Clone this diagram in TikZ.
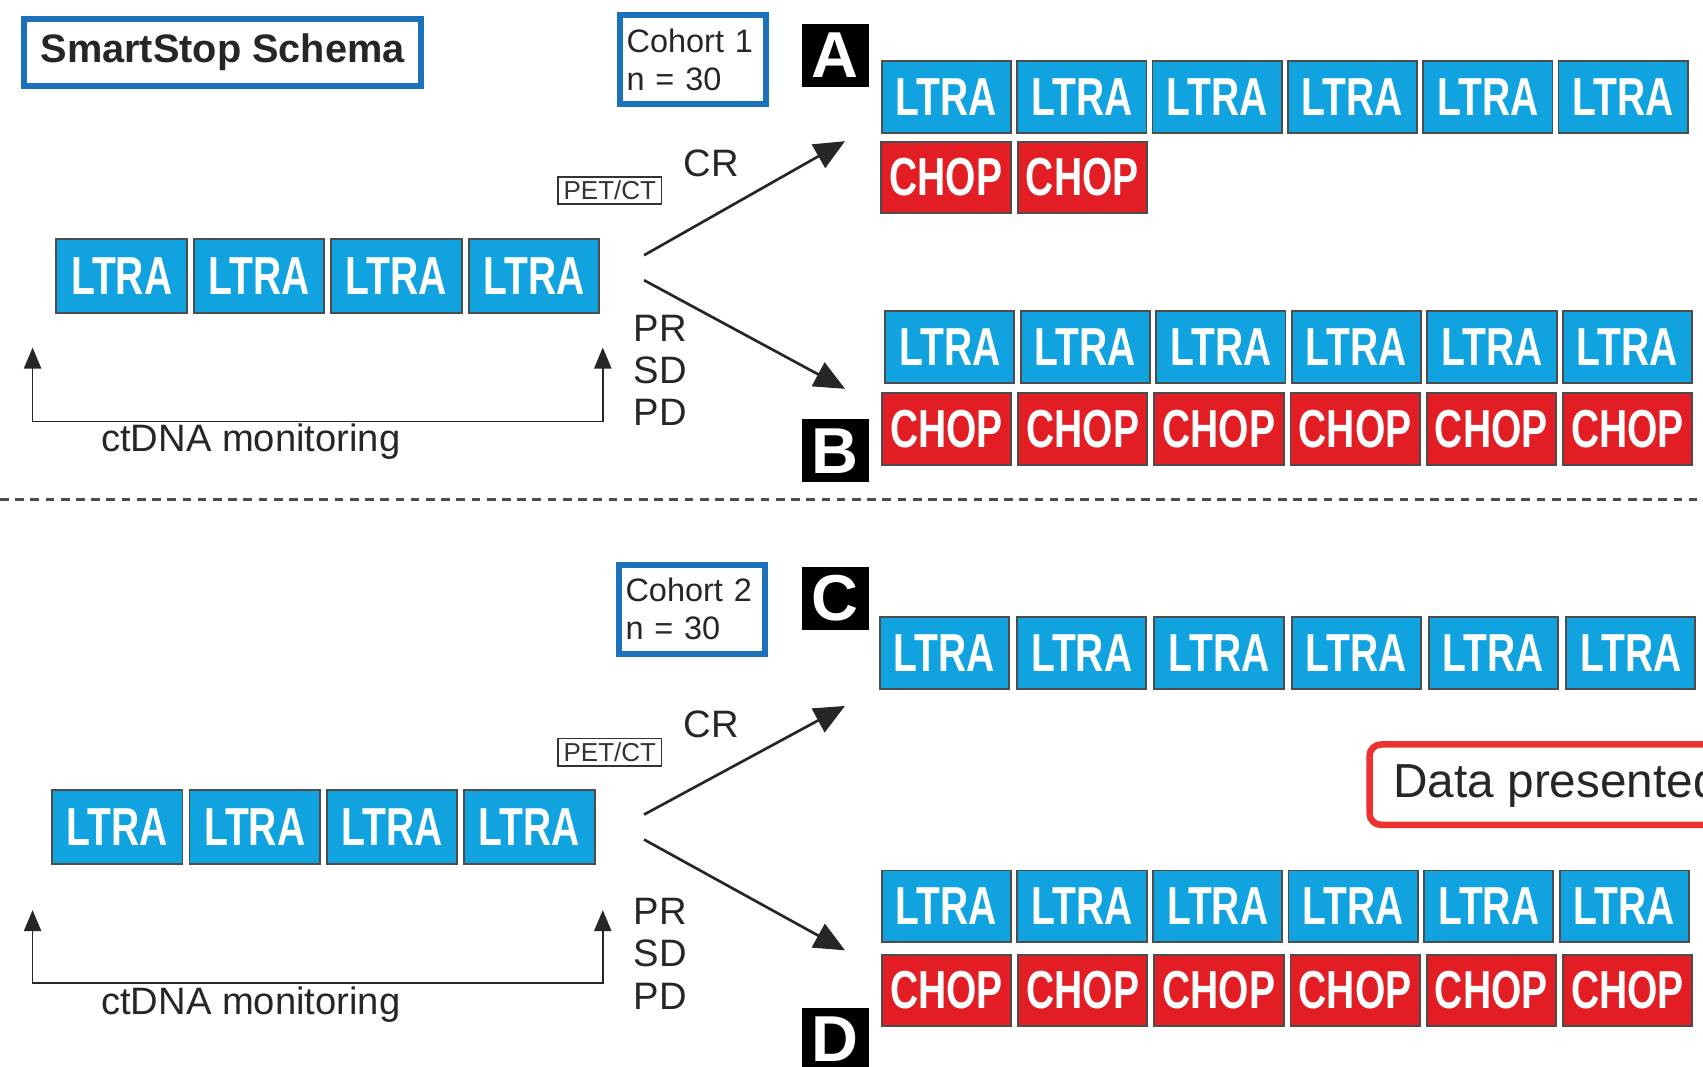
\documentclass[tikz,border=0pt]{standalone}
\usepackage{fontspec}
\setmainfont{Liberation Sans}
\newfontfamily\narrowfont[FakeStretch=0.73]{Liberation Sans}
\usetikzlibrary{arrows.meta}
\definecolor{ltrablue}{RGB}{16,163,224}
\definecolor{chopred}{RGB}{226,30,36}
\definecolor{frameblue}{RGB}{27,114,186}
\definecolor{framered}{RGB}{236,50,45}
\begin{document}
\begin{tikzpicture}[x=0.01cm,y=-0.01cm,
    drug/.style={draw=black!70,line width=0.5pt,minimum width=1.19cm,minimum height=0.66cm,inner sep=0pt,text=white,font=\narrowfont\bfseries\fontsize{14}{14}\selectfont},
    ltra/.style={drug,fill=ltrablue},
    chop/.style={drug,fill=chopred},
    panel/.style={fill=black,text=white,minimum width=0.62cm,minimum height=0.58cm,inner sep=0pt,font=\bfseries\fontsize{17}{17}\selectfont},
    cohort/.style={draw=frameblue,line width=1.5pt,text width=1.22cm,minimum height=0.82cm,inner xsep=0.06cm,align=left,text=black!85,font=\fontsize{8.5}{10}\selectfont},
    scan/.style={draw=black!80,line width=0.5pt,inner sep=0.5pt,minimum width=0.95cm,minimum height=0.25cm,text=black!80,font=\fontsize{6.8}{7}\selectfont},
    lbl/.style={text=black!85,font=\fontsize{10}{11.1}\selectfont},
    branch/.style={line width=0.7pt,draw=black!85,-{Triangle[length=8pt,width=7pt]}},
    loopback/.style={line width=0.45pt,draw=black!85,{Triangle[length=5.5pt,width=4.5pt]}-{Triangle[length=5.5pt,width=4.5pt]}}]
\useasboundingbox (0,0) rectangle (1568,982);

\node[draw=frameblue,line width=1.6pt,minimum width=3.65cm,minimum height=0.62cm,text=black!85,font=\bfseries\fontsize{10.4}{12}\selectfont] (schema) at (205,48.5) {SmartStop Schema};
\node[cohort] (cohort1) at (638,55) {Cohort 1\\n = 30};
\node[cohort] (cohort2) at (637,561) {Cohort 2\\n = 30};
\node[panel] (pa) at (769,51) {A};
\node[panel] (pb) at (769,415) {B};
\node[panel] (pc) at (769,551) {C};
\node[panel] (pd) at (769,957) {D};

\foreach \row/\x/\y in {p/112/254, q/108/761.5}
  \foreach \i in {1,...,4}
    \node[ltra,minimum width=1.2cm,minimum height=0.68cm] (\row\i) at ({\x+126.5*(\i-1)},\y) {LTRA};
\foreach \row/\sty/\txt/\x/\y/\n/\dx in {a/ltra/LTRA/871.5/89.5/6/124.6, ac/chop/CHOP/871/163.5/2/125.5,
    b/ltra/LTRA/874.5/319.5/6/124.8, bc/chop/CHOP/871.5/395/6/125.4, c/ltra/LTRA/869.5/601.5/6/126.4,
    d/ltra/LTRA/871.5/834.5/6/124.8, dc/chop/CHOP/871.5/912/6/125.4}
  \foreach \i in {1,...,\n}
    \node[\sty] (\row\i) at ({\x+\dx*(\i-1)},\y) {\txt};

\node[scan] (scan1) at (561.5,175.5) {PET/CT};
\node[scan] (scan2) at (561.5,692.5) {PET/CT};
\node[lbl] (cr1) at (655,150) {CR};
\node[lbl] (cr2) at (655,667) {CR};
\node[lbl,align=left] (rest1) at (608,341) {PR\\SD\\PD};
\node[lbl,align=left] (rest2) at (608,878) {PR\\SD\\PD};
\node[lbl] (ct1) at (231,407) {ctDNA monitoring};
\node[lbl] (ct2) at (231,925) {ctDNA monitoring};
\node[draw=framered,line width=1.7pt,rounded corners=3pt,anchor=west,minimum height=0.74cm,inner xsep=0.22cm,text=black!85,font=\fontsize{12.5}{14}\selectfont] (data) at (1258,722.5) {Data presented};

\coordinate (up1s) at (593,235); \coordinate (up1e) at (778,130);
\coordinate (dn1s) at (593,258); \coordinate (dn1e) at (778,358);
\coordinate (up2s) at (593,750); \coordinate (up2e) at (778,650);
\coordinate (dn2s) at (593,773); \coordinate (dn2e) at (778,875);
\coordinate (fbl1) at (30,320); \coordinate (fbr1) at (555,320);
\coordinate (fbl2) at (30,838); \coordinate (fbr2) at (555,838);

\draw[branch] (up1s) -- (up1e);
\draw[branch] (dn1s) -- (dn1e);
\draw[branch] (up2s) -- (up2e);
\draw[branch] (dn2s) -- (dn2e);
\draw[loopback] (fbl1) -- ++(0,68) -| (fbr1);
\draw[loopback] (fbl2) -- ++(0,67) -| (fbr2);
\draw[black!70,line width=0.8pt,dash pattern=on 0.08cm off 0.06cm] (0,460) -- (1568,460);
\end{tikzpicture}
\end{document}
